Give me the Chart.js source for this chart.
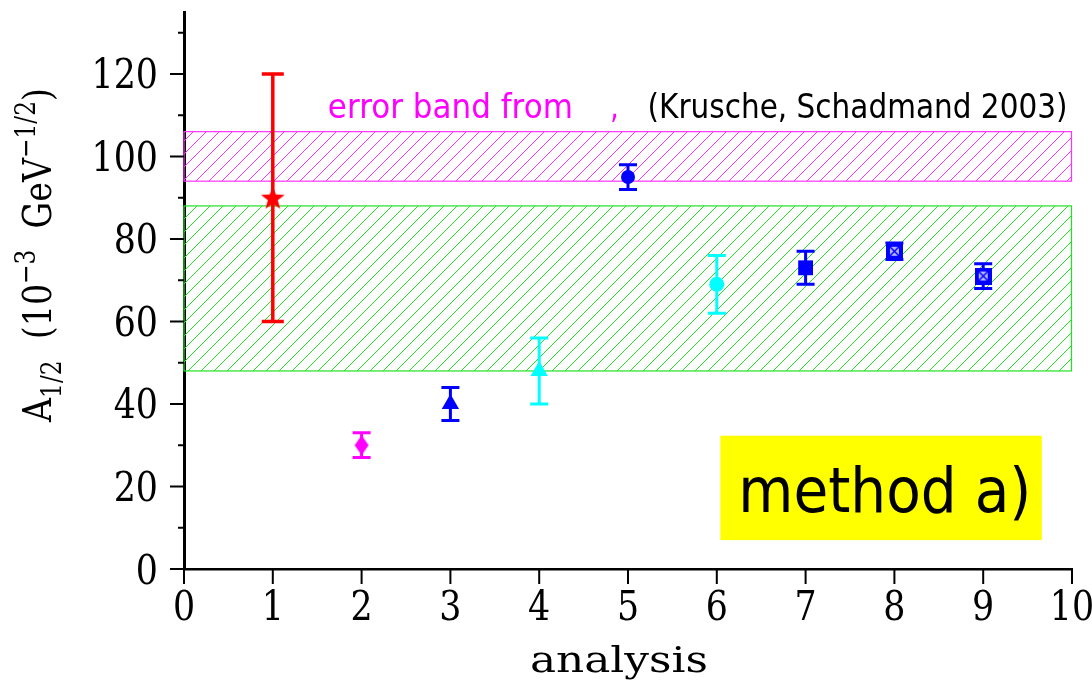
<!DOCTYPE html>
<html>
<head>
<meta charset="utf-8">
<script src="https://cdn.jsdelivr.net/npm/chart.js@4.4.1/dist/chart.umd.min.js"></script>
<style>
  body { margin: 0; background: #fff; }
  #wrap { width: 1092px; height: 683px; }
</style>
</head>
<body>
<div id="wrap"><canvas id="methodChart"></canvas></div>
<script>
// values
const analysis = [1, 2, 3, 4, 5, 6, 7, 8, 9];
const a12 = [90, 30, 40, 48, 95, 69, 73, 77, 71];
const a12Err = [30, 3, 4, 8, 3, 7, 4, 2, 3];
const bandUpper = [94, 106];   // magenta band
const bandLower = [48, 88];    // green band
const xTickLabels = ['0', '1', '2', '3', '4', '5', '6', '7', '8', '9', '10'];
const yTickLabels = ['0', '20', '40', '60', '80', '100', '120'];
const yMinorTicks = [10, 30, 50, 70, 90, 110, 130];

const markerColors = ['#ff0000', '#ff00ff', '#0000ff', '#00ffff', '#0000ff', '#00ffff', '#0000ff', '#0000ff', '#0000ff'];

function makeMarker(w, h, draw) {
    const c = document.createElement('canvas');
    c.width = w;
    c.height = h;
    draw(c.getContext('2d'), w, h);
    return c;
}

const starMarker = makeMarker(28, 28, (g, w, h) => {
    g.fillStyle = '#ff0000';
    g.beginPath();
    for (let i = 0; i < 10; i++) {
        const r = i % 2 ? 5.2 : 12.5;
        const a = -Math.PI / 2 + i * Math.PI / 5;
        g.lineTo(w / 2 + r * Math.cos(a), h / 2 + 1 + r * Math.sin(a));
    }
    g.closePath();
    g.fill();
});

const diamondMarker = makeMarker(16, 22, (g, w, h) => {
    g.fillStyle = '#ff00ff';
    g.beginPath();
    g.moveTo(w / 2, 1);
    g.lineTo(w - 1, h / 2);
    g.lineTo(w / 2, h - 1);
    g.lineTo(1, h / 2);
    g.closePath();
    g.fill();
});

const crossSquare = makeMarker(17, 17, (g, w, h) => {
    g.fillStyle = '#0000ff';
    g.fillRect(0, 0, w, h);
    g.fillStyle = '#b8b8ff';
    g.fillRect(4, 4, w - 8, h - 8);
    g.strokeStyle = '#0000ff';
    g.lineWidth = 1.5;
    g.beginPath();
    g.moveTo(4, 4); g.lineTo(w - 4, h - 4);
    g.moveTo(w - 4, 4); g.lineTo(4, h - 4);
    g.stroke();
});

const markerStyles = [starMarker, diamondMarker, 'triangle', 'triangle', 'circle', 'circle', 'rect', crossSquare, crossSquare];
const markerRadii = [12, 8, 10, 10, 7, 7.5, 10.5, 8, 8];

function hatch(color, step) {
    const c = document.createElement('canvas');
    c.width = step;
    c.height = step;
    const g = c.getContext('2d');
    g.strokeStyle = color;
    g.lineWidth = 1;
    g.beginPath();
    g.moveTo(0, step); g.lineTo(step, 0);
    g.moveTo(-2, 2); g.lineTo(2, -2);
    g.moveTo(step - 2, step + 2); g.lineTo(step + 2, step - 2);
    g.stroke();
    return c;
}

function drawScaled(ctx, text, x, y, font, sx, align) {
    ctx.save();
    ctx.font = font;
    ctx.translate(x, y);
    ctx.scale(sx, 1);
    ctx.textAlign = align || 'left';
    ctx.textBaseline = 'alphabetic';
    ctx.fillText(text, 0, 0);
    ctx.restore();
}

function drawFit(ctx, text, x, y, font, width, align) {
    ctx.save();
    ctx.font = font;
    const w = ctx.measureText(text).width;
    ctx.restore();
    drawScaled(ctx, text, x, y, font, width / w, align);
}

const axisFont = 'DejaVu Serif';

const physicsPlugin = {
    id: 'physics',
    beforeDatasetsDraw(chart) {
        const ctx = chart.ctx;
        const xs = chart.scales.x;
        const ys = chart.scales.y;
        const x0 = xs.getPixelForValue(0);
        const x1 = xs.getPixelForValue(10);

        // hatched bands
        [[bandLower, '#22e022'], [bandUpper, '#ff33ff']].forEach(([band, color]) => {
            const top = ys.getPixelForValue(band[1]);
            const bot = ys.getPixelForValue(band[0]);
            ctx.save();
            ctx.fillStyle = ctx.createPattern(hatch(color, 13), 'repeat');
            ctx.fillRect(x0, top, x1 - x0, bot - top);
            ctx.strokeStyle = color;
            ctx.lineWidth = 1.2;
            ctx.strokeRect(x0, top, x1 - x0 - 0.5, bot - top);
            ctx.restore();
        });

        // band caption
        const capY = ys.getPixelForValue(109.3);
        ctx.save();
        ctx.fillStyle = '#ff00ff';
        drawFit(ctx, 'error band from', xs.getPixelForValue(1.62), capY, '33px "DejaVu Sans"', 245);
        drawScaled(ctx, ',', xs.getPixelForValue(4.8), capY, '33px "DejaVu Sans"', 0.8);
        ctx.fillStyle = '#000';
        drawFit(ctx, '(Krusche, Schadmand 2003)', xs.getPixelForValue(5.22), capY, '33px "DejaVu Sans"', 420);
        ctx.restore();

        // method label box
        const bx0 = xs.getPixelForValue(6.04), bx1 = xs.getPixelForValue(9.66);
        const by0 = ys.getPixelForValue(32.3), by1 = ys.getPixelForValue(7.0);
        ctx.save();
        ctx.fillStyle = '#ffff00';
        ctx.fillRect(bx0, by0, bx1 - bx0, by1 - by0);
        ctx.fillStyle = '#000';
        drawFit(ctx, 'method a)', bx0 + 18, by0 + 76, '62px "DejaVu Sans"', 293);
        ctx.restore();

        // error bars
        const meta = chart.getDatasetMeta(0);
        meta.data.forEach((pt, i) => {
            const yTop = ys.getPixelForValue(a12[i] + a12Err[i]);
            const yBot = ys.getPixelForValue(a12[i] - a12Err[i]);
            const cap = i === 0 ? 11 : 9;
            ctx.save();
            ctx.strokeStyle = markerColors[i];
            ctx.lineWidth = i === 0 ? 3.5 : 3;
            ctx.beginPath();
            ctx.moveTo(pt.x, yTop); ctx.lineTo(pt.x, yBot);
            ctx.moveTo(pt.x - cap, yTop); ctx.lineTo(pt.x + cap, yTop);
            ctx.moveTo(pt.x - cap, yBot); ctx.lineTo(pt.x + cap, yBot);
            ctx.stroke();
            ctx.restore();
        });
    },
    afterDraw(chart) {
        const ctx = chart.ctx;
        const xs = chart.scales.x;
        const ys = chart.scales.y;
        const area = chart.chartArea;
        ctx.save();
        ctx.strokeStyle = '#000';
        ctx.fillStyle = '#000';
        ctx.lineWidth = 2;
        ctx.beginPath();
        yTickLabels.forEach(t => {
            const py = ys.getPixelForValue(Number(t));
            ctx.moveTo(area.left - 14, py); ctx.lineTo(area.left, py);
        });
        yMinorTicks.forEach(t => {
            const py = ys.getPixelForValue(t);
            ctx.moveTo(area.left - 6, py); ctx.lineTo(area.left, py);
        });
        xTickLabels.forEach(t => {
            const px = xs.getPixelForValue(Number(t));
            ctx.moveTo(px, area.bottom); ctx.lineTo(px, area.bottom + 15);
        });
        ctx.stroke();

        yTickLabels.forEach(t => {
            drawScaled(ctx, t, area.left - 26, ys.getPixelForValue(Number(t)) + 14.5, '41px "' + axisFont + '"', 0.85, 'right');
        });
        xTickLabels.forEach(t => {
            drawScaled(ctx, t, xs.getPixelForValue(Number(t)), area.bottom + 51, '41px "' + axisFont + '"', 0.85, 'center');
        });

        // x title
        drawFit(ctx, 'analysis', 619, area.bottom + 103, '35px "' + axisFont + '"', 178, 'center');

        // y title, rotated, with sub/superscripts
        const parts = [
            { t: 'A', s: 40, dy: 0 },
            { t: '1/2', s: 28, dy: 10 },
            { t: '  (10', s: 40, dy: 0 },
            { t: '\u22123', s: 28, dy: -16 },
            { t: '  GeV', s: 40, dy: 0 },
            { t: '\u22121/2', s: 28, dy: -16 },
            { t: ')', s: 40, dy: 0 }
        ];
        let total = 0;
        parts.forEach(p => {
            ctx.font = p.s + 'px "' + axisFont + '"';
            p.w = ctx.measureText(p.t).width;
            total += p.w;
        });
        const sx = 334 / total;
        ctx.translate(51, 422);
        ctx.rotate(-Math.PI / 2);
        ctx.scale(sx, 1);
        ctx.textAlign = 'left';
        let cx = 0;
        parts.forEach(p => {
            ctx.font = p.s + 'px "' + axisFont + '"';
            ctx.fillText(p.t, cx, p.dy);
            cx += p.w;
        });
        ctx.restore();
    }
};

const points = analysis.map((x, i) => ({ x: x, y: a12[i] }));

const chartElement = document.getElementById('methodChart');
const methodChart = new Chart(chartElement, {
    type: 'scatter',
    data: {
        datasets: [{
            data: points,
            showLine: false,
            pointStyle: markerStyles,
            pointRadius: markerRadii,
            pointHoverRadius: markerRadii,
            pointBackgroundColor: markerColors,
            pointBorderColor: markerColors,
            pointBorderWidth: 0
        }]
    },
    options: {
        responsive: true,
        maintainAspectRatio: false,
        animation: false,
        events: [],
        layout: { padding: { top: 7, right: 20, left: 0, bottom: 0 } },
        plugins: {
            legend: { display: false },
            tooltip: { enabled: false }
        },
        scales: {
            x: {
                type: 'linear',
                min: 0,
                max: 10,
                grid: { display: false },
                border: { display: true, color: '#000', width: 2.5 },
                ticks: { display: false },
                afterFit: s => { s.height = 114; }
            },
            y: {
                type: 'linear',
                min: 0,
                max: 135,
                grid: { display: false },
                border: { display: true, color: '#000', width: 3 },
                ticks: { display: false },
                afterFit: s => { s.width = 184; }
            }
        }
    },
    plugins: [physicsPlugin]
});
</script>
</body>
</html>
